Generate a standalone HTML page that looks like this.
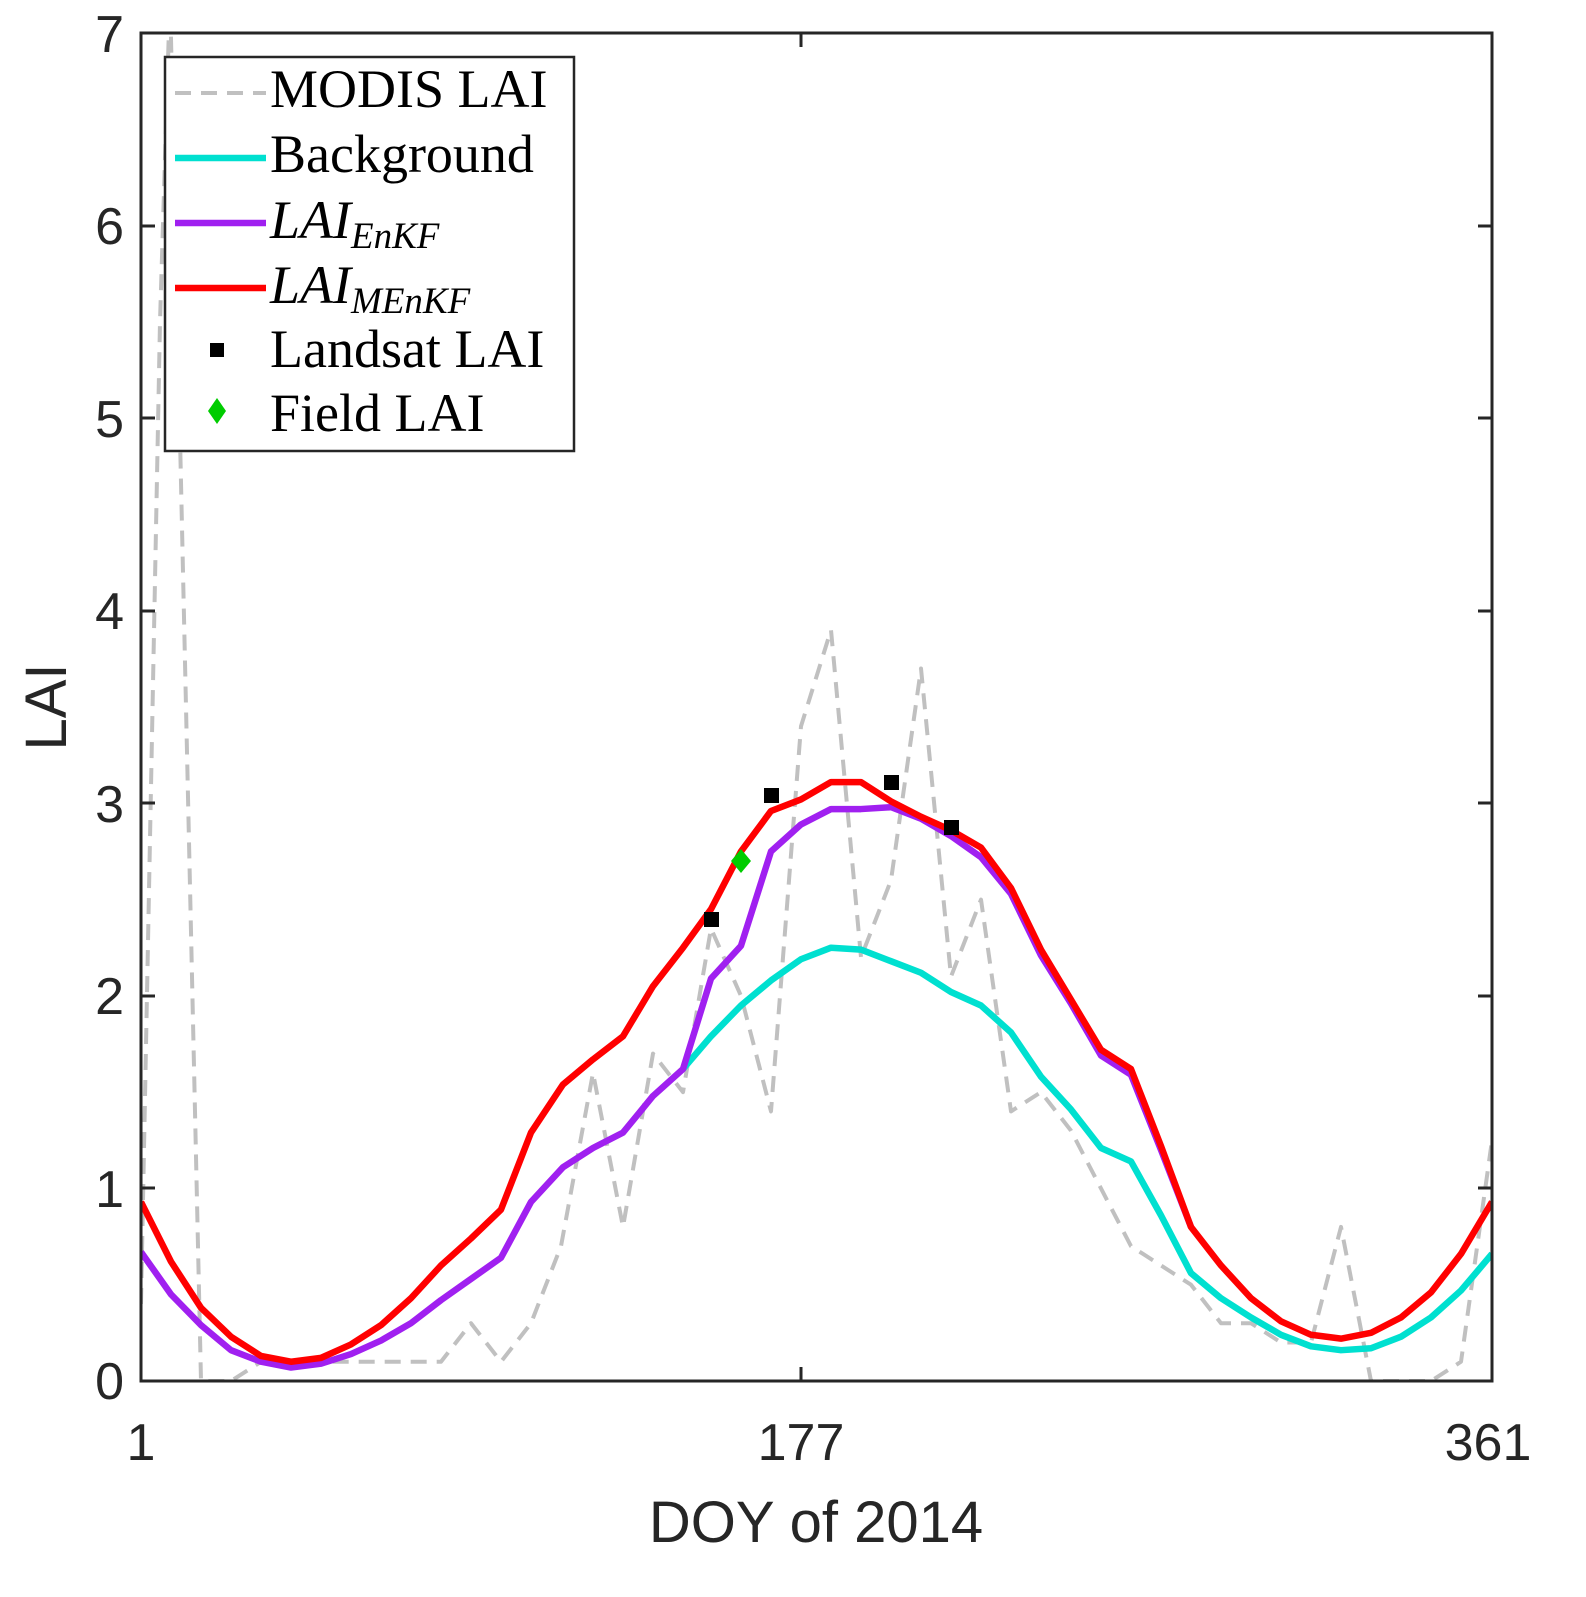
<!DOCTYPE html>
<html><head><style>
html,body{margin:0;padding:0;background:#fff;}
svg{display:block;}
.sf{font-family:"Liberation Sans",Arial,sans-serif;}
.lg text{font-family:"Liberation Serif","DejaVu Serif",serif;font-size:54px;}
</style></head><body>
<svg width="1586" height="1597" viewBox="0 0 1586 1597" xmlns="http://www.w3.org/2000/svg">
<rect width="1586" height="1597" fill="#fff"/>
<defs><clipPath id="c"><rect x="141" y="33" width="1351" height="1348"/></clipPath></defs>
<g clip-path="url(#c)">
<g transform="translate(0,1381) scale(1,-192.57)" fill="none" stroke-linejoin="round">
<polyline vector-effect="non-scaling-stroke" stroke="#c0c0c0" stroke-width="4" stroke-dasharray="16,10" points="141,0.4 160,5.5 170,7.2 180,4.9 201,0 231,0 261,0.1 291,0.1 321,0.1 351,0.1 381,0.1 411,0.1 441,0.1 471,0.3 501,0.1 531,0.3 561,0.7 593,1.6 623,0.8 653,1.7 683,1.5 711,2.35 741,2.0 771,1.4 801,3.4 831,3.9 861,2.2 891,2.6 921,3.7 951,2.1 981,2.5 1011,1.4 1041,1.5 1071,1.3 1101,1.0 1131,0.7 1161,0.6 1191,0.5 1221,0.3 1251,0.3 1281,0.2 1311,0.2 1341,0.8 1371,0 1401,0 1431,0 1461,0.1 1492,1.25"/>
<polyline vector-effect="non-scaling-stroke" stroke="#00e0d0" stroke-width="6.5" points="683,1.62 711,1.79 741,1.95 771,2.08 801,2.19 831,2.25 861,2.24 891,2.18 921,2.12 951,2.02 981,1.95 1011,1.81 1041,1.58 1071,1.41 1101,1.21 1131,1.14 1161,0.86 1191,0.56 1221,0.43 1251,0.33 1281,0.24 1311,0.18 1341,0.16 1371,0.17 1401,0.23 1431,0.33 1461,0.47 1492,0.66"/>
<polyline vector-effect="non-scaling-stroke" stroke="#a020f0" stroke-width="6.5" points="141,0.67 171,0.45 201,0.29 231,0.16 261,0.10 291,0.07 321,0.09 351,0.14 381,0.21 411,0.30 441,0.42 471,0.53 501,0.64 531,0.93 563,1.11 593,1.21 623,1.29 653,1.48 683,1.62 711,2.09 741,2.26 771,2.75 801,2.89 831,2.97 861,2.97 891,2.98 921,2.92 951,2.83 981,2.72 1011,2.53 1041,2.21 1071,1.96 1101,1.69 1131,1.59 1161,1.20 1191,0.80"/>
<polyline vector-effect="non-scaling-stroke" stroke="#ff0000" stroke-width="6.5" points="141,0.93 171,0.62 201,0.38 231,0.23 261,0.13 291,0.10 321,0.12 351,0.19 381,0.29 411,0.43 441,0.60 471,0.74 501,0.89 531,1.29 563,1.54 593,1.67 623,1.79 653,2.05 683,2.25 711,2.45 741,2.75 771,2.96 801,3.02 831,3.11 861,3.11 891,3.01 921,2.93 951,2.86 981,2.77 1011,2.56 1041,2.24 1071,1.98 1101,1.72 1131,1.62 1161,1.22 1191,0.80 1221,0.60 1251,0.43 1281,0.31 1311,0.24 1341,0.22 1371,0.25 1401,0.33 1431,0.46 1461,0.66 1492,0.93"/>
</g>
<rect x="704" y="912" width="15" height="15" fill="#000"/>
<rect x="764" y="788" width="15" height="15" fill="#000"/>
<rect x="884" y="775" width="15" height="15" fill="#000"/>
<rect x="944" y="820" width="15" height="15" fill="#000"/>
<polygon points="741,849 751,861 741,873 731,861" fill="#00cc00"/>
</g>
<rect x="141" y="33" width="1351" height="1348" fill="none" stroke="#262626" stroke-width="3"/>
<g stroke="#262626" stroke-width="3">
<line x1="141" y1="1188" x2="155" y2="1188"/><line x1="1492" y1="1188" x2="1478" y2="1188"/>
<line x1="141" y1="996" x2="155" y2="996"/><line x1="1492" y1="996" x2="1478" y2="996"/>
<line x1="141" y1="803" x2="155" y2="803"/><line x1="1492" y1="803" x2="1478" y2="803"/>
<line x1="141" y1="611" x2="155" y2="611"/><line x1="1492" y1="611" x2="1478" y2="611"/>
<line x1="141" y1="418" x2="155" y2="418"/><line x1="1492" y1="418" x2="1478" y2="418"/>
<line x1="141" y1="226" x2="155" y2="226"/><line x1="1492" y1="226" x2="1478" y2="226"/>
<line x1="801" y1="1381" x2="801" y2="1367"/><line x1="801" y1="33" x2="801" y2="47"/>
</g>
<g class="sf" font-size="52" fill="#262626" text-anchor="end">
<text x="124" y="1399">0</text><text x="124" y="1207">1</text><text x="124" y="1014">2</text>
<text x="124" y="822">3</text><text x="124" y="629">4</text><text x="124" y="437">5</text>
<text x="124" y="244">6</text><text x="124" y="52">7</text>
</g>
<g class="sf" font-size="52" fill="#262626" text-anchor="middle">
<text x="141" y="1460">1</text><text x="801" y="1460">177</text><text x="1488" y="1460">361</text>
<text x="816" y="1542" font-size="58">DOY of 2014</text>
</g>
<text class="sf" transform="translate(66,707) rotate(-90)" font-size="58" fill="#262626" text-anchor="middle">LAI</text>
<rect x="165" y="57" width="409" height="394" fill="#fff" stroke="#262626" stroke-width="2.5"/>
<line x1="175" y1="93" x2="266" y2="93" stroke="#c0c0c0" stroke-width="4" stroke-dasharray="16,10"/>
<line x1="175" y1="158" x2="266" y2="158" stroke="#00e0d0" stroke-width="6.5"/>
<line x1="175" y1="223" x2="266" y2="223" stroke="#a020f0" stroke-width="6.5"/>
<line x1="175" y1="288" x2="266" y2="288" stroke="#ff0000" stroke-width="6.5"/>
<rect x="210" y="343" width="14" height="14" fill="#000"/>
<polygon points="217,398 226,411 217,424 208,411" fill="#00cc00"/>
<g class="lg" fill="#000">
<text x="270" y="107">MODIS LAI</text>
<text x="270" y="172">Background</text>
<text x="270" y="238" font-style="italic">LAI<tspan font-size="37" dy="10">EnKF</tspan></text>
<text x="270" y="303" font-style="italic">LAI<tspan font-size="37" dy="10">MEnKF</tspan></text>
<text x="270" y="367">Landsat LAI</text>
<text x="270" y="431">Field LAI</text>
</g>
</svg>
</body></html>
